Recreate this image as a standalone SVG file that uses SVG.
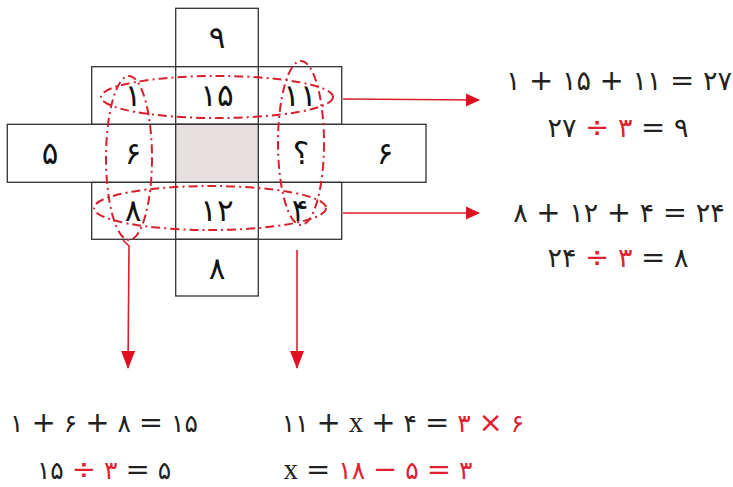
<svg xmlns="http://www.w3.org/2000/svg" width="733" height="487" viewBox="0 0 733 487">
<style>
.cell{fill:#fff;stroke:#333;stroke-width:1.3}
.shade{fill:#e6e0e0;stroke:#333;stroke-width:1.3}
.ring{fill:none;stroke:#d8202c;stroke-width:2;stroke-dasharray:9 4 2 4}
.conn{fill:none;stroke:#d8202c;stroke-width:1.6}
.num{font-family:"DejaVu Sans",sans-serif;font-size:31px;fill:#111;text-anchor:middle;unicode-bidi:bidi-override;direction:ltr}
.eq{font-family:"DejaVu Sans",sans-serif;font-size:27px;fill:#222;text-anchor:middle;unicode-bidi:bidi-override;direction:ltr}
.sm{font-size:25px}
.op{font-size:29px}
.red{fill:#e02030}
.x{font-family:"Liberation Serif",serif}
</style>
<defs>
<marker id="ah" markerWidth="14" markerHeight="14" refX="13" refY="7" orient="auto" markerUnits="userSpaceOnUse"><path d="M0,0.5 L14,7 L0,13.5 Z" fill="#e01020"/></marker>
<marker id="ahv" markerWidth="18" markerHeight="16" refX="17" refY="8" orient="auto" markerUnits="userSpaceOnUse"><path d="M0,1 L18,8 L0,15 Z" fill="#e01020"/></marker>
</defs>
<g id="grid">
<rect class="cell" x="175.7" y="8.3" width="82.6" height="58.4"/>
<rect class="cell" x="91.7" y="66.7" width="250" height="172.6"/>
<rect class="cell" x="7.3" y="124.3" width="418.7" height="58"/>
<rect class="cell" x="175.7" y="239.3" width="82.6" height="56.7"/>
<line class="cell" x1="175.7" y1="66.7" x2="175.7" y2="239.3"/>
<line class="cell" x1="258.3" y1="66.7" x2="258.3" y2="239.3"/>
<line class="cell" x1="91.7" y1="124.3" x2="341.7" y2="124.3"/>
<line class="cell" x1="91.7" y1="182.3" x2="341.7" y2="182.3"/>
<rect class="shade" x="175.7" y="124.3" width="82.6" height="58"/>
</g>
<g id="numbers">
<text class="num" x="217" y="48">۹</text>
<text class="num" x="133" y="106">۱</text>
<text class="num" x="217" y="106">۱۵</text>
<text class="num" x="300" y="106">۱۱</text>
<text class="num" x="50" y="164">۵</text>
<text class="num" x="133" y="164">۶</text>
<text class="num" x="301" y="164">؟</text>
<text class="num" x="385" y="164">۶</text>
<text class="num" x="133" y="221">۸</text>
<text class="num" x="217" y="221">۱۲</text>
<text class="num" x="300" y="221">۴</text>
<text class="num" x="217" y="279">۸</text>
</g>
<g id="groups">
<ellipse class="ring" cx="217" cy="97" rx="116" ry="21"/>
<ellipse class="ring" cx="210" cy="208" rx="116" ry="22"/>
<ellipse class="ring" cx="129" cy="158" rx="23" ry="82"/>
<ellipse class="ring" cx="301" cy="143" rx="23" ry="82"/>
</g>
<g id="connectors">
<line class="conn" x1="343" y1="99" x2="479" y2="100" marker-end="url(#ah)"/>
<line class="conn" x1="343" y1="213" x2="479" y2="213" marker-end="url(#ah)"/>
<path class="conn" d="M123,240 L129,246 L128,368" marker-end="url(#ahv)"/>
<line class="conn" x1="297" y1="250" x2="297" y2="368" marker-end="url(#ahv)"/>
</g>
<g id="equations">
<text class="eq" x="619" y="90">۱ <tspan class="op">+</tspan> ۱۵ <tspan class="op">+</tspan> ۱۱ <tspan class="op">=</tspan> ۲۷</text>
<text class="eq" x="618" y="137">۲۷ <tspan class="red op">÷</tspan> <tspan class="red">۳</tspan> <tspan class="op">=</tspan> ۹</text>
<text class="eq" x="619" y="222">۸ <tspan class="op">+</tspan> ۱۲ <tspan class="op">+</tspan> ۴ <tspan class="op">=</tspan> ۲۴</text>
<text class="eq" x="618" y="267">۲۴ <tspan class="red op">÷</tspan> <tspan class="red">۳</tspan> <tspan class="op">=</tspan> ۸</text>
<text class="eq sm" x="104" y="432">۱ <tspan class="op">+</tspan> ۶ <tspan class="op">+</tspan> ۸ <tspan class="op">=</tspan> ۱۵</text>
<text class="eq sm" x="104" y="479">۱۵ <tspan class="red op">÷</tspan> <tspan class="red">۳</tspan> <tspan class="op">=</tspan> ۵</text>
<text class="eq sm" x="403" y="432">۱۱ <tspan class="op">+</tspan> <tspan class="x op">x</tspan> <tspan class="op">+</tspan> ۴ <tspan class="op">=</tspan> <tspan class="red">۳</tspan> <tspan class="red op">×</tspan> <tspan class="red">۶</tspan></text>
<text class="eq sm" x="378" y="479"><tspan class="x op">x</tspan> <tspan class="op">=</tspan> <tspan class="red">۱۸</tspan> <tspan class="red op">−</tspan> <tspan class="red">۵</tspan> <tspan class="red op">=</tspan> <tspan class="red">۳</tspan></text>
</g>
</svg>
